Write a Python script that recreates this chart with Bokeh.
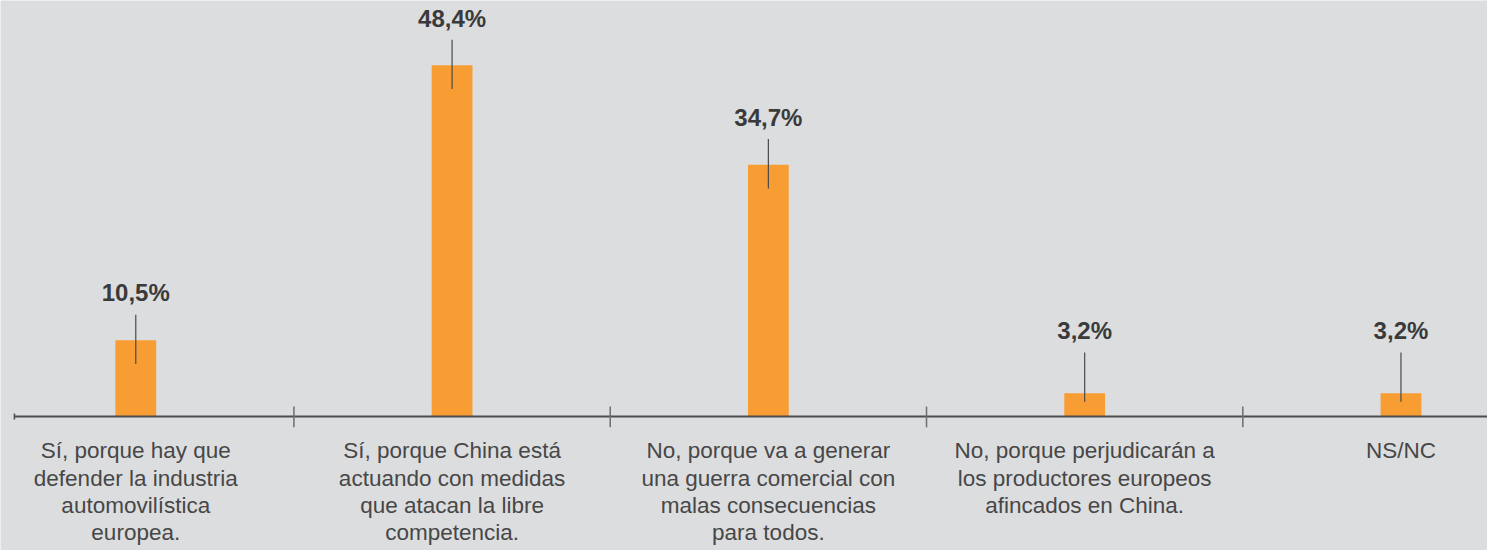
from bokeh.plotting import figure
from bokeh.models import Range1d
from bokeh.core.properties import value
from bokeh.embed import file_html
from bokeh.resources import INLINE

# ---- data ----
categories = [
    "Sí, porque hay que\ndefender la industria\nautomovilística\neuropea.",
    "Sí, porque China está\nactuando con medidas\nque atacan la libre\ncompetencia.",
    "No, porque va a generar\nuna guerra comercial con\nmalas consecuencias\npara todos.",
    "No, porque perjudicarán a\nlos productores europeos\nafincados en China.",
    "NS/NC",
]
values = [10.5, 48.4, 34.7, 3.2, 3.2]
value_labels = ["10,5%", "48,4%", "34,7%", "3,2%", "3,2%"]

# ---- styling / layout ----
W, H = 1487, 550          # figure size (fits the window with its 8px margin)
REF_W, REF_H = 1495, 558  # layout designed in these units
PX = 7.36                 # layout px per percentage point
XU = 318.0                # layout px per category
BG = "#dcdddf"
ORANGE = "#f79d34"
DARK = "#3a3a3a"
FONT = "Liberation Sans"

y0 = 422                  # baseline position (layout px from top)
xc = 772                  # centre of the middle category (layout px)
y_range = Range1d(-(REF_H - y0) / PX, y0 / PX)
x_range = Range1d((0 - xc) / XU + 2, (REF_W - xc) / XU + 2)

p = figure(width=W, height=H, x_range=x_range, y_range=y_range,
           output_backend="svg", toolbar_location=None, min_border=0,
           x_axis_location=None, y_axis_location=None,
           background_fill_color=BG, border_fill_color=BG,
           outline_line_color=None)
p.grid.visible = False

xs = list(range(len(values)))

# bars
p.vbar(x=xs, top=values, bottom=0, width=41 / XU, fill_color=ORANGE, line_color=None)

# baseline axis
ax_start = x_range.start + 14 / XU
p.segment(x0=[ax_start], y0=[0], x1=[x_range.end], y1=[0], line_color="#4d4d4d", line_width=2)
p.segment(x0=[ax_start], y0=[3 / PX], x1=[ax_start], y1=[-3 / PX], line_color="#4d4d4d", line_width=1.5)
seps = [i + 0.5 for i in range(len(values) - 1)]
p.segment(x0=seps, y0=[10 / PX] * len(seps), x1=seps, y1=[-11 / PX] * len(seps),
          line_color="#6e6e6e", line_width=1.5)

# leader lines + value labels
line_top = [max(v + 26 / PX, 65 / PX) for v in values]
line_bot = [t - 50 / PX for t in line_top]
p.segment(x0=xs, y0=line_top, x1=xs, y1=line_bot, line_color="#4a4a4a", line_width=1.2)
p.text(x=xs, y=[t + 22 / PX for t in line_top], text=value_labels,
       text_font=value(FONT), text_font_style="bold", text_font_size="24px",
       text_color=DARK, text_align="center", text_baseline="middle")

# category labels, line by line
lx, ly, lt = [], [], []
first = -(457 - y0) / PX
step = 27.5 / PX
for i, c in enumerate(categories):
    for k, line in enumerate(c.split("\n")):
        lx.append(i)
        ly.append(first - k * step)
        lt.append(line)
p.text(x=lx, y=ly, text=lt, text_font=value(FONT), text_font_size="22.5px",
       text_color="#474747", text_align="center", text_baseline="middle")

open("out.html", "w").write(file_html(p, INLINE))
